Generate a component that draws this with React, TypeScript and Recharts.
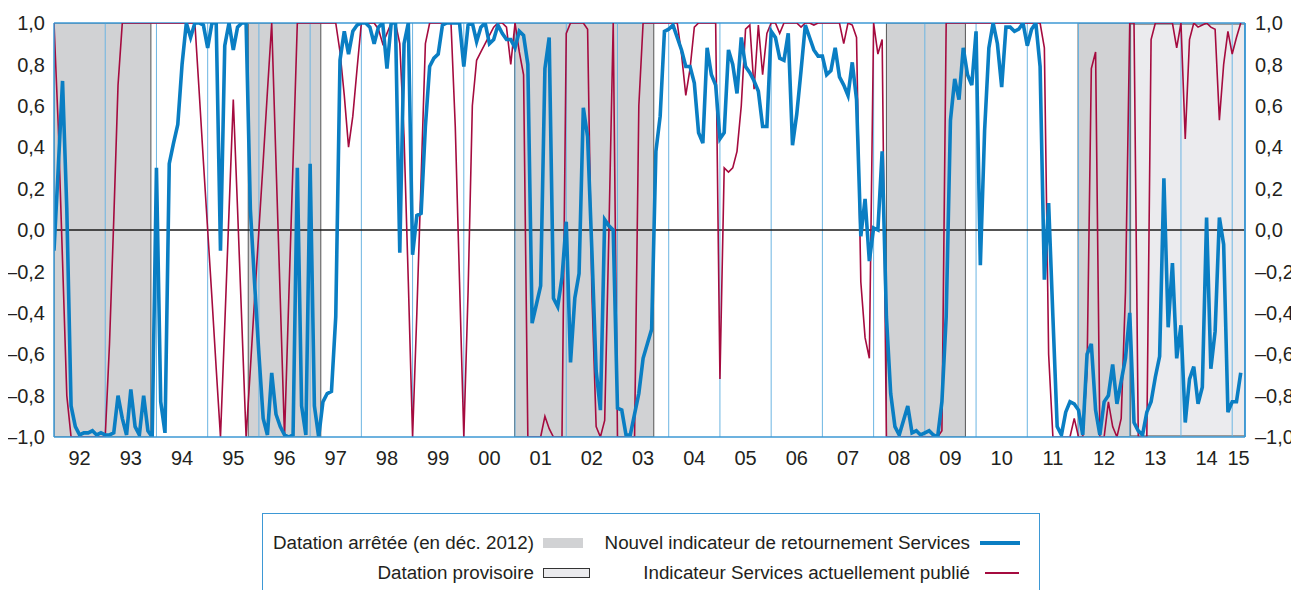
import React from "react";
import { ComposedChart, Line, XAxis, YAxis, ReferenceArea, ReferenceLine } from "recharts";

// Year labels (one per calendar year, 1992 .. 2015)
const yearLabels = ["92","93","94","95","96","97","98","99","00","01","02","03","04","05","06","07","08","09","10","11","12","13","14","15"];

// Y-axis ticks
const yTicks = [-1, -0.8, -0.6, -0.4, -0.2, 0, 0.2, 0.4, 0.6, 0.8, 1];

// Monthly values, January 1992 .. March 2015 (one row per year)
const newIndicator = [
  -0.1, 0.3, 0.72, 0.1, -0.85, -0.95, -0.99, -0.98, -0.98, -0.97, -0.99, -0.98,
  -0.99, -0.99, -0.98, -0.8, -0.91, -0.99, -0.77, -0.95, -0.99, -0.8, -0.97, -1.0,
  0.3, -0.83, -0.98, 0.32, 0.42, 0.51, 0.8, 1.0, 0.93, 1.0, 1.0, 0.99,
  0.88, 1.0, 1.0, -0.1, 0.89, 1.0, 0.87, 0.98, 1.0, 1.0, 0.1, -0.26,
  -0.6, -0.91, -0.99, -0.69, -0.89, -0.95, -0.99, -1.0, -0.99, 0.3, -0.85, -0.99,
  0.32, -0.85, -1.0, -0.83, -0.79, -0.78, -0.42, 0.82, 0.96, 0.85, 0.96, 0.99,
  1.0, 1.0, 0.98, 0.9, 0.98, 1.0, 0.78, 1.0, 1.0, -0.11, 0.9, 1.0,
  -0.12, 0.07, 0.08, 0.5, 0.79, 0.83, 0.85, 0.99, 1.0, 1.0, 1.0, 1.0,
  0.79, 0.99, 1.0, 0.91, 0.98, 1.0, 0.9, 0.92, 0.99, 0.95, 0.92, 0.92,
  0.88, 0.96, 0.94, 0.8, -0.45, -0.36, -0.27, 0.78, 0.93, -0.33, -0.37, -0.23,
  0.04, -0.64, -0.33, -0.21, 0.59, 0.45, -0.1, -0.68, -0.87, 0.05, 0.02, 0.0,
  -0.86, -0.87, -0.99, -0.99, -0.89, -0.79, -0.62, -0.55, -0.48, 0.38, 0.55, 0.96,
  0.97, 0.99, 0.93, 0.87, 0.79, 0.79, 0.71, 0.47, 0.42, 0.88, 0.75, 0.7,
  0.44, 0.47, 0.87, 0.8, 0.66, 0.93, 0.79, 0.76, 0.72, 0.67, 0.5, 0.5,
  0.96, 0.93, 0.83, 0.82, 0.95, 0.41, 0.56, 0.77, 0.99, 0.93, 0.87, 0.84,
  0.84, 0.75, 0.77, 0.88, 0.74, 0.7, 0.65, 0.81, 0.63, -0.03, 0.15, -0.15,
  0.01, 0.0, 0.38, -0.42, -0.79, -0.95, -0.99, -0.92, -0.85, -0.98, -0.97, -0.99,
  -0.98, -0.97, -0.99, -1.0, -0.83, -0.42, 0.53, 0.73, 0.63, 0.88, 0.75, 0.7,
  0.96, -0.17, 0.48, 0.88, 1.0, 0.9, 0.69, 0.98, 0.98, 0.96, 0.97, 1.0,
  0.89, 0.97, 1.0, 0.79, -0.24, 0.13, -0.42, -0.95, -0.99, -0.88, -0.83, -0.84,
  -0.87, -0.99, -0.6, -0.55, -0.87, -0.99, -0.83, -0.8, -0.65, -0.84, -0.73, -0.62,
  -0.4, -0.93, -0.97, -0.99, -0.88, -0.83, -0.71, -0.61, 0.25, -0.47, -0.16, -0.62,
  -0.46, -0.93, -0.72, -0.66, -0.84, -0.76, 0.06, -0.67, -0.49, 0.06, -0.07, -0.88,
  -0.83, -0.83, -0.69,
];

const publishedIndicator = [
  1.0, 0.5, -0.15, -0.8, -1, -1, -1, -1, -1, -1, -1, -1,
  -1, -0.55, 0.05, 0.7, 1, 1, 1, 1, 1, 1, 1, 1,
  1, 1, 1, 1, 1, 1, 1, 1, 1, 1, 0.67, 0.33,
  0.0, -0.33, -0.67, -1.0, -0.46, 0.09, 0.63, 0.1, -0.45, -1.0, -0.67, -0.33,
  0.0, 0.33, 0.67, 1.0, 0.33, -0.33, -1.0, -0.33, 0.33, 1.0, 1, 1,
  1, 1, 1, 1, 1, 1, 1, 0.86, 0.65, 0.4, 0.55, 0.78,
  1, 1, 1, 1, 0.97, 0.9, 0.95, 1, 1, 0.9, 0.45, -0.25,
  -1.0, -0.4, 0.25, 0.9, 1, 1, 1, 1, 1, 1, 0.5, -0.25,
  -1.0, -0.3, 0.6, 0.82, 0.86, 0.9, 0.94, 0.98, 1, 1, 0.98, 0.8,
  1, 0.86, 0.75, -1, -1, -1, -1, -0.9, -0.96, -1, -1, -1,
  0.95, 1, 1, 1, 1, 0.97, -0.3, -0.95, -1, -0.92, 0.0, 1.0,
  -1, -1, -1, -1, -1, 0.6, 1, 1, 1, 1, 1, 1,
  1, 1, 1, 0.85, 0.65, 0.78, 0.98, 1, 1, 1, 1, 1,
  -0.72, 0.3, 0.28, 0.3, 0.38, 0.6, 0.97, 0.99, 0.68, 0.99, 0.75, 0.95,
  1, 1, 0.95, 1, 1, 1, 1, 0.98, 1, 1, 0.99, 1,
  1, 1, 1, 1, 1, 0.9, 1, 0.99, 0.93, -0.25, -0.52, -0.62,
  1, 0.85, 0.92, -1, -1, -1, -1, -1, -1, -1, -1, -1,
  -1, -1, -1, -1, -0.97, 1, 1, 1, 1, 1, 1, 1,
  1, 1, 1, 1, 1, 1, 1, 1, 1, 1, 1, 1,
  1, 1, 1, 1, 0.88, -0.6, -1, -1, -1, -1, -1, -0.91,
  -1, -1, -0.68, 0.78, 0.86, -1, -1, -0.83, -0.95, -1, -0.91, -0.3,
  1, 1, -1, -1, -1, 0.92, 1, 1, 1, 1, 1, 0.88,
  1, 0.44, 0.92, 1, 0.98, 0.99, 1, 0.98, 0.97, 0.53, 0.8, 0.96,
  0.85, 0.93, 1,
];

// Dating periods, in months since January 1992
const fixedPeriods = [
  [0, 22.7],
  [45.5, 62.5],
  [107.9, 140.5],
  [195, 213.5],
  [239.9, 252],
];
const provisionalPeriods = [[252.2, 279]];

const BLUE = "#0a7ec3";
const RED = "#a50b3f";
const FRAME = "#3d98d5";
const YEARLINE = "#6cb5e2";
const GREY = "#d1d2d4";
const LIGHT = "#ebebee";
const TEXT = "#231f20";
const FONT = "'Liberation Sans', Arial, Helvetica, sans-serif";

const fmt = (v: number) => (v < 0 ? "\u2013" : "") + Math.abs(v).toFixed(1).replace(".", ",");

const data = newIndicator.map((b, i) => ({ m: i, blue: b, red: publishedIndicator[i] }));
const xTicks = yearLabels.map((_, i) => (i === yearLabels.length - 1 ? i * 12 + 1.5 : i * 12 + 6));
const yearStarts = yearLabels.slice(1).map((_, i) => (i + 1) * 12);

export default function App() {
  return (
    <div style={{ position: "relative", width: 1299, height: 600, margin: "-8px -8px 0 -8px", fontFamily: FONT }}>
      <ComposedChart
        width={1299}
        height={590}
        data={data}
        margin={{ top: 23, right: 0, bottom: 113, left: 0 }}
        style={{ fontFamily: FONT }}
      >
        <XAxis
          dataKey="m"
          type="number"
          domain={[0, 279]}
          ticks={xTicks}
          interval={0}
          tickFormatter={(v: number) => yearLabels[Math.floor(v / 12)]}
          axisLine={{ stroke: FRAME, strokeWidth: 1.5 }}
          tickLine={false}
          tickSize={0}
          tickMargin={14}
          height={40}
          tick={{ fill: TEXT, fontSize: 20 }}
          allowDataOverflow
        />
        <YAxis
          yAxisId="l"
          domain={[-1, 1]}
          ticks={yTicks}
          interval={0}
          tickFormatter={fmt}
          axisLine={{ stroke: FRAME, strokeWidth: 1.5 }}
          tickLine={false}
          tickSize={0}
          tickMargin={9}
          width={54}
          tick={{ fill: TEXT, fontSize: 20 }}
          allowDataOverflow
        />
        <YAxis
          yAxisId="r"
          orientation="right"
          domain={[-1, 1]}
          ticks={yTicks}
          interval={0}
          tickFormatter={fmt}
          axisLine={{ stroke: FRAME, strokeWidth: 1.5 }}
          tickLine={false}
          tickSize={0}
          tickMargin={10}
          width={54}
          tick={{ fill: TEXT, fontSize: 20, textAnchor: "start" }}
          allowDataOverflow
        />
        {fixedPeriods.map((p, i) => (
          <ReferenceArea key={"f" + i} yAxisId="l" x1={p[0]} x2={p[1]} y1={-1} y2={1} fill={GREY} fillOpacity={1} stroke="#555" strokeWidth={1} ifOverflow="hidden" />
        ))}
        {provisionalPeriods.map((p, i) => (
          <ReferenceArea key={"p" + i} yAxisId="l" x1={p[0]} x2={p[1]} y1={-0.995} y2={0.995} fill={LIGHT} fillOpacity={1} stroke="#555" strokeWidth={1} ifOverflow="hidden" />
        ))}
        {yearStarts.map((x) => (
          <ReferenceLine key={"y" + x} yAxisId="l" x={x} stroke={YEARLINE} strokeWidth={1} />
        ))}
        <ReferenceLine yAxisId="l" y={0} stroke="#1a1a1a" strokeWidth={1.6} />
        <ReferenceLine yAxisId="l" y={1} stroke={FRAME} strokeWidth={1.5} />
        <ReferenceLine yAxisId="l" x={279} stroke={FRAME} strokeWidth={1.5} />
        <Line yAxisId="l" type="linear" dataKey="red" stroke={RED} strokeWidth={1.6} dot={false} isAnimationActive={false} />
        <Line yAxisId="l" type="linear" dataKey="blue" stroke={BLUE} strokeWidth={3.6} dot={false} isAnimationActive={false} />
      </ComposedChart>
      <div
        style={{
          position: "absolute",
          left: 262,
          top: 513,
          width: 778,
          height: 86,
          border: `1px solid ${FRAME}`,
          boxSizing: "border-box",
          fontSize: 18.8,
          color: TEXT,
          lineHeight: "20px",
        }}
      >
        <span style={{ position: "absolute", right: 505, top: 19, whiteSpace: "nowrap" }}>Datation arrêtée (en déc. 2012)</span>
        <div style={{ position: "absolute", left: 280, top: 24, width: 40, height: 10, background: GREY }} />
        <span style={{ position: "absolute", right: 69, top: 19, whiteSpace: "nowrap" }}>Nouvel indicateur de retournement Services</span>
        <div style={{ position: "absolute", left: 717, top: 27, width: 40, height: 4, background: BLUE }} />
        <span style={{ position: "absolute", right: 505, top: 49, whiteSpace: "nowrap" }}>Datation provisoire</span>
        <div style={{ position: "absolute", left: 280, top: 54, width: 47, height: 10, background: LIGHT, border: "1px solid #333", boxSizing: "border-box" }} />
        <span style={{ position: "absolute", right: 69, top: 49, whiteSpace: "nowrap" }}>Indicateur Services actuellement publié</span>
        <div style={{ position: "absolute", left: 722, top: 58, width: 34, height: 2, background: RED }} />
      </div>
    </div>
  );
}
